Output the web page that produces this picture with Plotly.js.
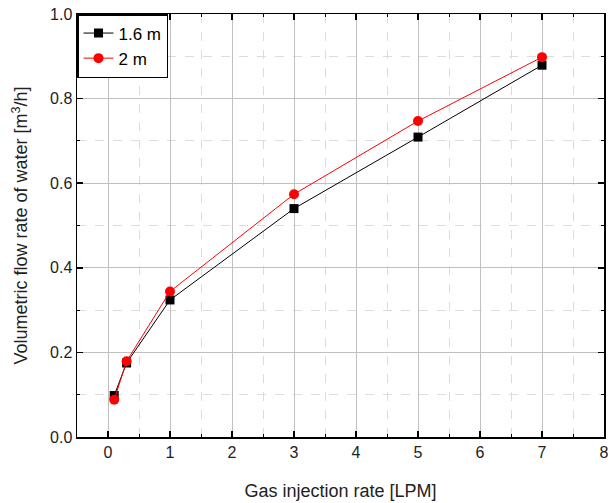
<!DOCTYPE html>
<html>
<head>
<meta charset="utf-8">
<script src="https://cdn.plot.ly/plotly-3.0.1.min.js"></script>
<style>html,body{margin:0;padding:0;background:#fff;}#chart{width:613px;height:503px;}</style>
</head>
<body>
<div id="chart"></div>
<script>
var gasRate = [0.1, 0.3, 1, 3, 5, 7];
var flow16 = [0.098, 0.175, 0.324, 0.540, 0.709, 0.879];
var flow20 = [0.088, 0.179, 0.344, 0.574, 0.747, 0.898];
var seriesNames = ['1.6 m', '2 m'];

var font = 'Liberation Sans, Arial, sans-serif';
var traces = [
  {x: gasRate, y: flow16, name: seriesNames[0], mode: 'lines+markers', type: 'scatter',
   line: {color: '#000000', width: 1}, marker: {symbol: 'square', size: 9, color: '#000000'}},
  {x: gasRate, y: flow20, name: seriesNames[1], mode: 'lines+markers', type: 'scatter',
   line: {color: '#ff0000', width: 1}, marker: {symbol: 'circle', size: 10, color: '#ff0000'}}
];
var axisCommon = {
  showline: true, linecolor: '#000', linewidth: 1.5, mirror: 'allticks',
  ticks: 'inside', ticklen: 6, tickwidth: 1.5, tickcolor: '#000',
  showgrid: true, gridcolor: '#c0c0c0', gridwidth: 1, zeroline: false,
  tickfont: {family: font, size: 16, color: '#222'}
};
var layout = {
  width: 613, height: 503,
  margin: {l: 77, r: 9, t: 14, b: 66},
  paper_bgcolor: '#fff', plot_bgcolor: '#fff',
  showlegend: true,
  legend: {x: 0, y: 1, xanchor: 'left', yanchor: 'top', bordercolor: '#000', borderwidth: 1.5,
           bgcolor: '#fff', font: {family: font, size: 17, color: '#000'}, tracegroupgap: 0,
           itemwidth: 30},
  xaxis: Object.assign({}, axisCommon, {
    range: [-0.5, 8], tick0: 0, dtick: 1,
    minor: {dtick: 0.5, tick0: 0, ticks: 'inside', ticklen: 3, tickwidth: 1, tickcolor: '#000',
            showgrid: true, gridcolor: '#dcdcdc', griddash: 'dash', gridwidth: 1},
    title: {text: 'Gas injection rate [LPM]', font: {family: font, size: 18, color: '#222'}, standoff: 24}
  }),
  yaxis: Object.assign({}, axisCommon, {
    range: [0, 1], tick0: 0, dtick: 0.2, tickformat: '.1f',
    minor: {dtick: 0.1, tick0: 0, ticks: 'inside', ticklen: 3, tickwidth: 1, tickcolor: '#000',
            showgrid: true, gridcolor: '#dcdcdc', griddash: 'dash', gridwidth: 1},
    title: {text: 'Volumetric flow rate of water [m<sup>3</sup>/h]', font: {family: font, size: 18, color: '#222'}, standoff: 17}
  })
};
Plotly.newPlot('chart', traces, layout, {displayModeBar: false, staticPlot: true});
</script>
</body>
</html>
